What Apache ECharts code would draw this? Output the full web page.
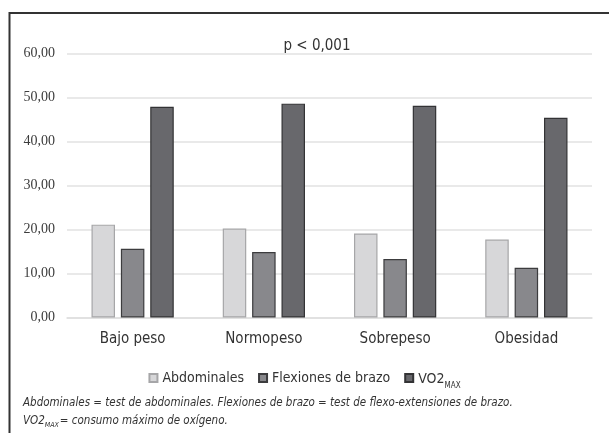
<!DOCTYPE html>
<html>
<head>
<meta charset="utf-8">
<script src="https://cdn.jsdelivr.net/npm/echarts@6/dist/echarts.min.js"></script>
<style>html,body{margin:0;padding:0;background:#fff}#c{width:609px;height:433px}</style>
</head>
<body>
<div id="c"></div>
<script>
const categories = ['Bajo peso', 'Normopeso', 'Sobrepeso', 'Obesidad'];
const abdominales = [21.1, 20.2, 19.1, 17.7];
const flexiones = [15.6, 14.9, 13.3, 11.3];
const vo2max = [47.9, 48.6, 48.1, 45.4];
const yTicks = [0, 10, 20, 30, 40, 50, 60];

const NARROW = "'Liberation Sans Narrow', 'DejaVu Sans Condensed', 'Roboto Condensed', sans-serif";
const SERIF = "'Liberation Serif', 'DejaVu Serif', serif";

const chart = echarts.init(document.getElementById('c'), null, {renderer: 'canvas'});
chart.setOption({
  animation: false,
  backgroundColor: '#fff',
  title: {
    text: 'p < 0,001',
    left: 312, top: 34,
    textAlign: 'center',
    textStyle: {fontFamily: NARROW, fontSize: 15, fontWeight: 'normal', color: '#333'}
  },
  grid: {left: 67, right: 17, top: 53.5, bottom: 115.5, containLabel: false},
  legend: {
    left: 'center', top: 366,
    itemWidth: 8, itemHeight: 8, itemGap: 14,
    icon: 'rect',
    textStyle: {
      fontFamily: NARROW, fontSize: 14, color: '#333',
      rich: {
        m: {fontFamily: NARROW, fontSize: 14, color: '#333', lineHeight: 17, verticalAlign: 'bottom'},
        s: {fontFamily: NARROW, fontSize: 8, color: '#333', lineHeight: 8, verticalAlign: 'bottom', padding: [0,0,-3,0]}
      }
    },
    formatter: function (n) {
      if (n === 'VO2MAX') return '{m|VO2}{s|MAX}';
      return n;
    },
    data: ['Abdominales', 'Flexiones de brazo', 'VO2MAX']
  },
  xAxis: {
    type: 'category',
    data: categories,
    axisLine: {show: true, lineStyle: {color: '#dedede', width: 1.5}},
    axisTick: {show: false},
    axisLabel: {fontFamily: NARROW, fontSize: 15, color: '#333', margin: 14}
  },
  yAxis: {
    type: 'value',
    min: yTicks[0], max: yTicks[yTicks.length - 1], interval: 10,
    axisLine: {show: false},
    axisTick: {show: false},
    splitLine: {lineStyle: {color: '#e2e2e2', width: 1.5}},
    axisLabel: {
      fontFamily: SERIF, fontSize: 14, color: '#3c3c3c', margin: 12,
      formatter: v => v.toFixed(2).replace('.', ',')
    }
  },
  series: [
    {name: 'Abdominales', type: 'bar', data: abdominales, barWidth: 23.5, barGap: '25%',
     itemStyle: {color: '#d7d7d9', borderColor: '#a6a6a8', borderWidth: 1.2}},
    {name: 'Flexiones de brazo', type: 'bar', data: flexiones, barWidth: 23.5, barGap: '25%',
     itemStyle: {color: '#88888c', borderColor: '#3c3c3e', borderWidth: 1.2}},
    {name: 'VO2MAX', type: 'bar', data: vo2max, barWidth: 23.5, barGap: '25%',
     itemStyle: {color: '#68686c', borderColor: '#333335', borderWidth: 1.2}}
  ],
  graphic: [
    {type: 'polyline', shape: {points: [[9.5, 440], [9.5, 13], [612, 13]]},
     style: {stroke: '#333', lineWidth: 2, fill: null}},
    {type: 'text', left: 23, top: 397,
     style: {text: 'Abdominales = test de abdominales. Flexiones de brazo = test de flexo-extensiones de brazo.',
       font: 'italic 11.5px ' + NARROW, fill: '#333'}},
    {type: 'text', left: 23, top: 415,
     style: {
       text: '{m|VO2}{s|MAX}{m|= consumo máximo de oxígeno.}',
       rich: {
         m: {font: 'italic 11.5px ' + NARROW, fill: '#333', lineHeight: 15, verticalAlign: 'bottom'},
         s: {font: 'italic 7px ' + NARROW, fill: '#333', lineHeight: 7, verticalAlign: 'bottom', padding: [0,1,-2,0]}
       }
     }}
  ]
});
</script>
</body>
</html>
